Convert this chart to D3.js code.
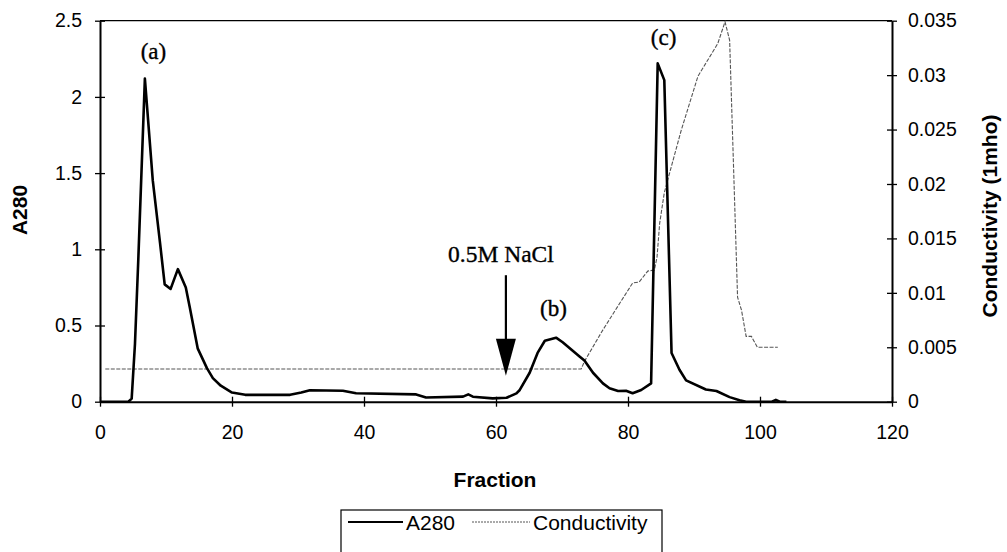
<!DOCTYPE html>
<html>
<head>
<meta charset="utf-8">
<script src="https://cdn.jsdelivr.net/npm/d3@7"></script>
<style>
  body { margin: 0; background: #fff; }
  svg text { font-family: "Liberation Sans", Arial, sans-serif; fill: #000; }
  .note { font-family: "Liberation Serif", "Times New Roman", serif; stroke: #000; stroke-width: 0.35px; }
</style>
</head>
<body>
<script>
// A280 trace (fraction, absorbance)
var a280Fraction = [0, 4.3, 4.8, 5.3, 5.8, 6.8, 8.0, 9.1, 9.8, 10.7, 11.8, 13.0, 13.6, 14.8, 16.2, 17.1, 18.3, 20.0, 22.0,
                    28.8, 30.5, 31.8, 36.8, 38.8, 47.9, 49.4, 55.0, 55.8, 56.5, 59.5, 61.6, 63.1, 63.6, 65.1, 66.3, 67.4,
                    69.1, 70.1, 72.7, 73.4, 74.7, 76.2, 77.2, 78.5, 79.7, 80.7, 82.0, 83.5, 84.5, 85.5, 86.6, 87.8,
                    88.8, 91.8, 93.4, 95.4, 96.9, 97.9, 101.8, 102.4, 103.0, 104.0];
var a280Value    = [0, 0, 0.02, 0.38, 0.93, 2.12, 1.45, 1.04, 0.77, 0.74, 0.87, 0.75, 0.62, 0.35, 0.22, 0.155, 0.105, 0.06, 0.045,
                    0.045, 0.06, 0.075, 0.072, 0.055, 0.048, 0.028, 0.033, 0.048, 0.033, 0.022, 0.026, 0.055, 0.077, 0.19, 0.32, 0.40,
                    0.42, 0.39, 0.295, 0.27, 0.19, 0.12, 0.088, 0.07, 0.072, 0.055, 0.077, 0.12, 2.22, 2.11, 0.32, 0.21,
                    0.14, 0.08, 0.07, 0.03, 0.01, 0, 0, 0.012, 0, 0];

// conductivity trace (fraction, mho)
var condFraction = [0.8, 72.9, 73.4, 76.2, 78.7, 80.7, 81.7, 83.0, 84.0, 84.4, 84.8, 85.5, 86.3, 88.05, 90.6, 93.6,
                    94.7, 95.4, 96.6, 97.2, 97.9, 98.7, 99.6, 102.7];
var condValue    = [0.003, 0.003, 0.0037, 0.0066, 0.009, 0.0109, 0.011, 0.012, 0.0121, 0.0133, 0.0164, 0.0192, 0.021, 0.0249, 0.0299, 0.0329,
                    0.0349, 0.0332, 0.0096, 0.0084, 0.006, 0.006, 0.005, 0.005];

var xTicks     = [0, 20, 40, 60, 80, 100, 120];
var leftTicks  = [0, 0.5, 1, 1.5, 2, 2.5];
var rightTicks = [0, 0.005, 0.01, 0.015, 0.02, 0.025, 0.03, 0.035];

// peak labels and the salt step marker
var peakLabels = [
  { text: "(a)", f: 8.1,  v: 2.25 },
  { text: "(b)", f: 68.7, v: 0.56 },
  { text: "(c)", f: 85.4, v: 2.34 }
];
var saltStep = { text: "0.5M NaCl", f: 61.5, top: 0.83, tip: 0.17 };

var width = 1007, height = 552;
var plotLeft = 100, plotRight = 892, plotTop = 20.7, plotBottom = 401.7;
var tickFont = 19.5, titleFont = 21;

var svg = d3.select("body").append("svg")
    .attr("width", width)
    .attr("height", height);

var x  = d3.scaleLinear().domain([0, 120]).range([plotLeft, plotRight]);
var yL = d3.scaleLinear().domain([0, 2.5]).range([plotBottom, plotTop]);
var yR = d3.scaleLinear().domain([0, 0.035]).range([plotBottom, plotTop]);

// frame (top edge is thin)
svg.append("line")
    .attr("x1", plotLeft).attr("x2", plotRight)
    .attr("y1", plotTop).attr("y2", plotTop)
    .attr("stroke", "#000").attr("stroke-width", 1.3);

var crossTicks = function (g, side) {
  g.select(".domain").attr("stroke-width", 2);
  g.selectAll(".tick line").attr("stroke-width", 1.3);
  if (side === "b") {
    g.selectAll(".tick line").attr("y1", -5);
  } else if (side === "l") {
    g.selectAll(".tick line").attr("x1", 5);
  } else {
    g.selectAll(".tick line").attr("x1", -5);
  }
  g.selectAll(".tick text").attr("font-size", tickFont).style("font-family", "'Liberation Sans', Arial, sans-serif");
};

svg.append("g")
    .attr("transform", "translate(0," + plotBottom + ")")
    .call(d3.axisBottom(x).tickValues(xTicks).tickSizeOuter(0).tickSizeInner(5).tickPadding(18).tickFormat(d3.format("d")))
    .call(function (g) { crossTicks(g, "b"); });

svg.append("g")
    .attr("transform", "translate(" + plotLeft + ",0)")
    .call(d3.axisLeft(yL).tickValues(leftTicks).tickSizeOuter(0).tickSizeInner(5).tickPadding(13).tickFormat(function (d) { return String(d); }))
    .call(function (g) { crossTicks(g, "l"); });

svg.append("g")
    .attr("transform", "translate(" + plotRight + ",0)")
    .call(d3.axisRight(yR).tickValues(rightTicks).tickSizeOuter(0).tickSizeInner(5).tickPadding(11).tickFormat(function (d) { return String(d); }))
    .call(function (g) { crossTicks(g, "r"); });

// axis titles
svg.append("text")
    .attr("transform", "translate(27,210) rotate(-90)")
    .attr("text-anchor", "middle")
    .attr("font-size", titleFont).attr("font-weight", "bold")
    .text("A280");

svg.append("text")
    .attr("transform", "translate(997,216) rotate(-90)")
    .attr("text-anchor", "middle")
    .attr("font-size", titleFont).attr("font-weight", "bold")
    .text("Conductivity (1mho)");

svg.append("text")
    .attr("x", 495).attr("y", 487)
    .attr("text-anchor", "middle")
    .attr("font-size", titleFont).attr("font-weight", "bold")
    .text("Fraction");

// series
var a280 = a280Fraction.map(function (f, i) { return { f: f, v: a280Value[i] }; });
var cond = condFraction.map(function (f, i) { return { f: f, v: condValue[i] }; });

svg.append("path")
    .datum(cond)
    .attr("fill", "none")
    .attr("stroke", "#555")
    .attr("stroke-width", 1.1)
    .attr("stroke-dasharray", "4,1.5")
    .attr("d", d3.line().x(function (d) { return x(d.f); }).y(function (d) { return yR(d.v); }));

svg.append("path")
    .datum(a280)
    .attr("fill", "none")
    .attr("stroke", "#000")
    .attr("stroke-width", 2.6)
    .attr("stroke-linejoin", "round")
    .attr("d", d3.line().x(function (d) { return x(d.f); }).y(function (d) { return yL(d.v); }));

// annotations
svg.selectAll("text.peak")
    .data(peakLabels)
    .enter().append("text")
    .attr("class", "peak note")
    .attr("x", function (d) { return x(d.f); })
    .attr("y", function (d) { return yL(d.v); })
    .attr("text-anchor", "middle")
    .attr("font-size", 23)
    .text(function (d) { return d.text; });

svg.append("text")
    .attr("class", "note")
    .attr("x", x(saltStep.f) - 5).attr("y", 262)
    .attr("text-anchor", "middle")
    .attr("font-size", 23.5)
    .text(saltStep.text);

var ax = x(saltStep.f), aTop = yL(saltStep.top), aTip = yL(saltStep.tip);
svg.append("line")
    .attr("x1", ax).attr("x2", ax)
    .attr("y1", aTop).attr("y2", aTip - 30)
    .attr("stroke", "#000").attr("stroke-width", 2.2);
svg.append("path")
    .attr("d", "M" + (ax - 10) + "," + (aTip - 37) + "L" + (ax + 10) + "," + (aTip - 37) + "L" + ax + "," + aTip + "Z")
    .attr("fill", "#000");

// legend
var lg = svg.append("g");
lg.append("rect")
    .attr("x", 341).attr("y", 510)
    .attr("width", 321).attr("height", 60)
    .attr("fill", "none").attr("stroke", "#000").attr("stroke-width", 1.2);
lg.append("line")
    .attr("x1", 348).attr("x2", 403).attr("y1", 522).attr("y2", 522)
    .attr("stroke", "#000").attr("stroke-width", 2);
lg.append("text")
    .attr("x", 406).attr("y", 529.5)
    .attr("font-size", 21)
    .text("A280");
lg.append("line")
    .attr("x1", 472).attr("x2", 530).attr("y1", 522).attr("y2", 522)
    .attr("stroke", "#555").attr("stroke-width", 1).attr("stroke-dasharray", "2,1");
lg.append("text")
    .attr("x", 533).attr("y", 529.5)
    .attr("font-size", 21)
    .text("Conductivity");
</script>
</body>
</html>
